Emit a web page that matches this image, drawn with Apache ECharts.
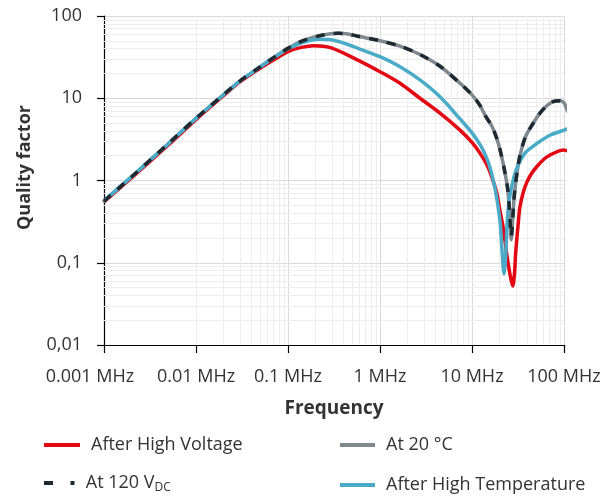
<!DOCTYPE html>
<html>
<head>
<meta charset="utf-8">
<script src="https://cdn.jsdelivr.net/npm/echarts@6/dist/echarts.min.js"></script>
<style>
html, body { margin: 0; padding: 0; background: #fff; }
#chart { width: 611px; height: 496px; }
</style>
</head>
<body>
<div id="chart"></div>
<script>
// frequency in MHz, quality factor
var highVoltage = [[0.001,0.55],[0.002,1.08],[0.005,2.7],[0.01,5.5],[0.02,10.8],[0.03,15.8],[0.045,21.5],[0.06,26.5],[0.08,32],[0.1,37],[0.14,41.5],[0.19,43.5],[0.29,41.2],[0.56,29.5],[1,21],[1.65,15.2],[2.72,10],[4.49,6.6],[7.41,4.1],[10,2.9],[12.2,2.15],[14.5,1.55],[16.4,1.1],[18.5,0.72],[20,0.45],[21.9,0.26],[23.8,0.13],[25.9,0.072],[27.7,0.052],[29,0.075],[29.8,0.13],[31.8,0.3],[33.2,0.48],[36.1,0.72],[39.4,0.95],[44,1.2],[50.5,1.47],[60,1.8],[70.5,2.04],[85,2.25],[98,2.35],[110,2.3],[122,2.35]];
var at20C = [[0.001,0.56],[0.002,1.11],[0.005,2.8],[0.01,5.7],[0.02,11.1],[0.03,16.2],[0.045,22.2],[0.06,27.8],[0.08,34.5],[0.1,40.5],[0.13,47.5],[0.16,52],[0.22,57.5],[0.29,60.8],[0.35,61.6],[0.45,60.5],[0.56,57],[1,50],[1.65,43],[2.72,34],[4.49,24.5],[7.41,15.2],[10,11],[12.2,8.2],[14,6.1],[16.4,4.6],[18.5,3.3],[20.5,2.2],[22.5,1.35],[24.4,0.8],[25.5,0.45],[26.7,0.19],[27.8,0.36],[28.6,0.6],[29.5,0.84],[31.2,1.35],[33.2,2.0],[37.7,3.3],[42.7,4.3],[54.8,6.6],[65,8.1],[76,9.1],[90,9.3],[100,8.8],[106,7.6],[110,6.9]];
var at120Vdc = [[0.001,0.56],[0.002,1.11],[0.005,2.8],[0.01,5.7],[0.02,11.1],[0.03,16.2],[0.045,22.2],[0.06,27.8],[0.08,34.5],[0.1,40.5],[0.13,47.5],[0.16,52],[0.22,57.5],[0.29,60.8],[0.35,61.6],[0.45,60.5],[0.56,57],[1,50],[1.65,43],[2.72,34],[4.49,24.5],[7.41,15.2],[10,11],[12.2,8.2],[14,6.1],[16.4,4.6],[18.5,3.3],[20.5,2.2],[22.5,1.35],[24.4,0.8],[25.5,0.45],[26.7,0.21],[27.8,0.36],[28.6,0.6],[29.5,0.84],[31.2,1.35],[33.2,2.0],[37.7,3.3],[42.7,4.3],[54.8,6.6],[65,8.1],[76,9.1],[90,9.3],[100,8.8]];
var highTemp = [[0.001,0.57],[0.002,1.12],[0.005,2.8],[0.01,5.7],[0.02,11.1],[0.03,16.2],[0.045,22.2],[0.06,27.8],[0.08,34.3],[0.1,40],[0.13,45.5],[0.16,49.3],[0.22,52],[0.29,51.5],[0.4,47],[0.56,41],[1,32],[1.65,24.2],[2.72,16.7],[4.49,10.4],[7.41,5.6],[10,3.8],[12.2,2.75],[13.8,2.1],[15.5,1.5],[17.8,0.8],[20.1,0.33],[21.3,0.13],[22.3,0.073],[23.3,0.13],[24.2,0.33],[25.5,0.6],[27,0.84],[29.2,1.2],[31.8,1.55],[37.7,2.15],[46,2.6],[55,3.0],[70.5,3.55],[100,4.1],[125,4.4]];

var xTickLabels = ['0.001 MHz', '0.01 MHz', '0.1 MHz', '1 MHz', '10 MHz', '100 MHz'];
var yTickLabels = ['0,01', '0,1', '1', '10', '100'];
var minorSteps = [2, 3, 4, 5, 6, 7, 8, 9];
var xDecades = [0.001, 0.01, 0.1, 1, 10];
var yDecades = [0.01, 0.1, 1, 10];

var font = 'Open Sans';
var textColor = '#333333';

var minorLines = [];
xDecades.forEach(function (d) {
    minorSteps.forEach(function (k) { minorLines.push({ xAxis: k * d }); });
});
yDecades.forEach(function (d) {
    minorSteps.forEach(function (k) { minorLines.push({ yAxis: k * d }); });
});

var myChart = echarts.init(document.getElementById('chart'), null, { renderer: 'canvas' });

// legend icons: plain bar, or a long + short dash for the dashed series
var solidIcon = 'rect';
var dashIcon = 'path://M0,0h9v4h-9z M26.5,0h4v4h-4z';

function legendAt(name, left, top, icon, width, pad) {
    return {
        data: [name],
        left: left,
        top: top,
        padding: 0,
        icon: icon,
        itemWidth: width,
        itemHeight: 4,
        selectedMode: false,
        textStyle: {
            fontFamily: font, fontSize: 18, color: textColor, padding: [0, 0, 0, pad],
            rich: {
                t: { fontFamily: font, fontSize: 18, color: textColor },
                sub: { fontFamily: font, fontSize: 12, color: textColor, padding: [10, 0, 0, 0] }
            }
        },
        formatter: function (n) {
            return n === 'At 120 VDC' ? '{t|At 120 V}{sub|DC}' : n;
        }
    };
}

var option = {
    animation: false,
    backgroundColor: '#ffffff',
    grid: { left: 104, right: 47, top: 16, bottom: 151 },
    legend: [
        legendAt('After High Voltage', 44, 436, solidIcon, 36, 6),
        legendAt('At 120 VDC', 44, 474, dashIcon, 31, 6),
        legendAt('At 20 °C', 340, 436, solidIcon, 35, 6),
        legendAt('After High Temperature', 340, 476, solidIcon, 35, 6)
    ],
    xAxis: {
        type: 'log',
        logBase: 10,
        min: 0.001,
        max: 100,
        name: 'Frequency',
        nameLocation: 'middle',
        nameGap: 54,
        nameTextStyle: { fontFamily: font, fontSize: 19, fontWeight: 'bold', color: textColor },
        axisLine: { show: true, lineStyle: { color: '#000', width: 1.2 } },
        axisTick: { show: true, length: 8, lineStyle: { color: '#000', width: 1.2 } },
        axisLabel: {
            margin: 23, fontFamily: font, fontSize: 18, color: textColor,
            formatter: function (v) {
                var i = Math.round(Math.log10(v)) + 3;
                return i === 0 ? '{first|' + xTickLabels[i] + '}' : xTickLabels[i];
            },
            rich: { first: { fontFamily: font, fontSize: 18, color: textColor, padding: [0, 28, 0, 0] } }
        },
        splitLine: { show: true, lineStyle: { color: '#dadada', width: 1 } }
    },
    yAxis: {
        type: 'log',
        logBase: 10,
        min: 0.01,
        max: 100,
        name: 'Quality factor',
        nameLocation: 'middle',
        nameGap: 70,
        nameTextStyle: { fontFamily: font, fontSize: 18, fontWeight: 'bold', color: textColor, padding: [0, 0, 0, 26] },
        axisLine: { show: true, lineStyle: { color: '#000', width: 1.2 } },
        axisTick: { show: true, length: 7, lineStyle: { color: '#000', width: 1.2 } },
        axisLabel: {
            margin: 22, fontFamily: font, fontSize: 18, color: textColor,
            formatter: function (v) {
                return yTickLabels[Math.round(Math.log10(v)) + 2];
            }
        },
        splitLine: { show: true, lineStyle: { color: '#dadada', width: 1 } }
    },
    series: [
        {
            name: 'minor grid',
            type: 'line',
            data: [],
            z: 1,
            silent: true,
            markLine: {
                silent: true,
                z: 1,
                symbol: ['none', 'none'],
                label: { show: false },
                lineStyle: { type: 'solid', color: '#ededed', width: 1 },
                emphasis: { disabled: true },
                data: minorLines
            }
        },
        {
            name: 'After High Voltage',
            type: 'line',
            data: highVoltage,
            showSymbol: false,
            symbol: 'none',
            smooth: 0.3,
            clip: false,
            z: 3,
            color: '#e30613',
            lineStyle: { color: '#e30613', width: 3.5 }
        },
        {
            name: 'At 20 °C',
            type: 'line',
            data: at20C,
            showSymbol: false,
            symbol: 'none',
            smooth: 0.3,
            clip: false,
            z: 4,
            color: '#7e888f',
            lineStyle: { color: '#7e888f', width: 3.5, cap: 'round' }
        },
        {
            name: 'After High Temperature',
            type: 'line',
            data: highTemp,
            showSymbol: false,
            symbol: 'none',
            smooth: 0.3,
            clip: false,
            z: 5,
            color: '#4aabc8',
            lineStyle: { color: '#4aabc8', width: 3.5 }
        },
        {
            name: 'At 120 VDC',
            type: 'line',
            data: at120Vdc,
            showSymbol: false,
            symbol: 'none',
            smooth: 0.3,
            clip: false,
            z: 6,
            color: '#1e2a32',
            lineStyle: { color: '#1e2a32', width: 3.5, type: [9, 9] }
        }
    ]
};

myChart.setOption(option);
</script>
</body>
</html>
